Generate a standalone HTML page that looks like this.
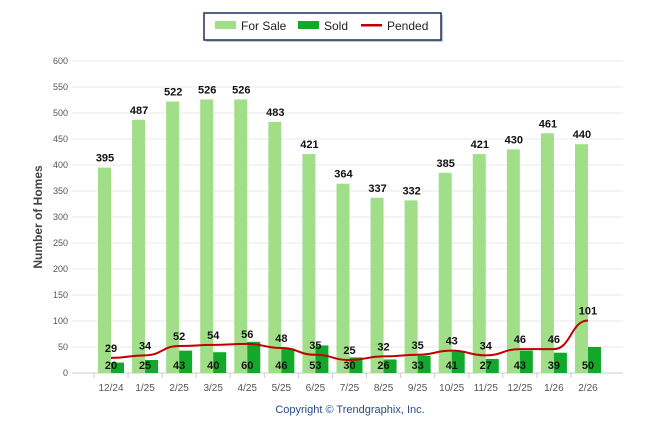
<!DOCTYPE html>
<html><head><meta charset="utf-8"><style>
body{margin:0;background:#fff;font-family:"Liberation Sans",Arial,sans-serif}
svg{display:block}
</style></head><body>
<svg id="chart" width="646" height="434">
<g id="legend">
<rect x="206" y="15" width="237" height="27" fill="#9aa4b8" opacity="0.6"/>
<rect x="204" y="13" width="237" height="27" fill="#fff" stroke="#1f2f5a" stroke-width="1.5"/>
<g><rect x="215" y="21" width="21" height="8" fill="#a0df88"/><text x="241" y="30" font-size="12" fill="#222">For Sale</text></g>
<g><rect x="298" y="21" width="21" height="8" fill="#12a82a"/><text x="324" y="30" font-size="12" fill="#222">Sold</text></g>
<g><rect x="361" y="24" width="21" height="2.5" fill="#c00000"/><text x="387" y="30" font-size="12" fill="#222">Pended</text></g>
</g>
<g id="grid"></g><g id="bars"></g><g id="line"></g><g id="labels"></g>
<text x="42" y="217" font-size="12" font-weight="bold" fill="#444" text-anchor="middle" transform="rotate(-90 42 217)">Number of Homes</text>
<text x="350" y="413" font-size="11" fill="#2a4a8a" text-anchor="middle">Copyright © Trendgraphix, Inc.</text>
</svg>
<script>
const categories=["12/24","1/25","2/25","3/25","4/25","5/25","6/25","7/25","8/25","9/25","10/25","11/25","12/25","1/26","2/26"];
const forSale=[395,487,522,526,526,483,421,364,337,332,385,421,430,461,440];
const sold=[20,25,43,40,60,46,53,30,26,33,41,27,43,39,50];
const pended=[29,34,52,54,56,48,35,25,32,35,43,34,46,46,101];
const yTicks=[0,50,100,150,200,250,300,350,400,450,500,550,600];
const NS="http://www.w3.org/2000/svg";
const y=v=>373-v*0.52;
const x=i=>111+i*34.07;
function mk(t,a,p){const e=document.createElementNS(NS,t);for(const k in a)e.setAttribute(k,a[k]);document.getElementById(p).appendChild(e);return e;}
yTicks.forEach(t=>{
 const l=mk("line",{x1:72,x2:623,y1:y(t),y2:y(t),stroke:t===0?"#ccc":"#e8e8e8","stroke-width":1},"grid");
 
 
 const tx=mk("text",{x:68,y:y(t)+3,"font-size":9,fill:"#555","text-anchor":"end"},"grid");tx.textContent=t;
 
 
});
categories.forEach((c,i)=>{
 const tk=mk("line",{x1:x(i)-17,x2:x(i)-17,y1:373,y2:378,stroke:"#ccc"},"grid");
 
 
 const t=mk("text",{x:x(i),y:391,"font-size":10,fill:"#555","text-anchor":"middle"},"grid");t.textContent=c;
 
 
 const b1=mk("rect",{x:x(i)-13,y:y(forSale[i]),width:13,height:forSale[i]*0.52,fill:"#a0df88"},"bars");
 
 
 const b2=mk("rect",{x:x(i),y:y(sold[i]),width:13,height:sold[i]*0.52,fill:"#12a82a"},"bars");
 
 
 const l1=mk("text",{x:x(i)-6,y:y(forSale[i])-6,"font-size":11,"font-weight":"bold",fill:"#111","text-anchor":"middle"},"labels");l1.textContent=forSale[i];
 
 
 const l2=mk("text",{x:x(i),y:369,"font-size":11,"font-weight":"bold",fill:"#111","text-anchor":"middle"},"labels");l2.textContent=sold[i];
 
 
 const l3=mk("text",{x:x(i),y:y(pended[i])-6,"font-size":11,"font-weight":"bold",fill:"#111","text-anchor":"middle"},"labels");l3.textContent=pended[i];
 
 
});
let d="M"+x(0)+","+y(pended[0]);
for(let i=1;i<pended.length;i++){const mx=(x(i-1)+x(i))/2;d+=` C${mx},${y(pended[i-1])} ${mx},${y(pended[i])} ${x(i)},${y(pended[i])}`;}
const p=mk("path",{d:d,fill:"none",stroke:"#c00000","stroke-width":2},"line");


</script>
</body></html>
